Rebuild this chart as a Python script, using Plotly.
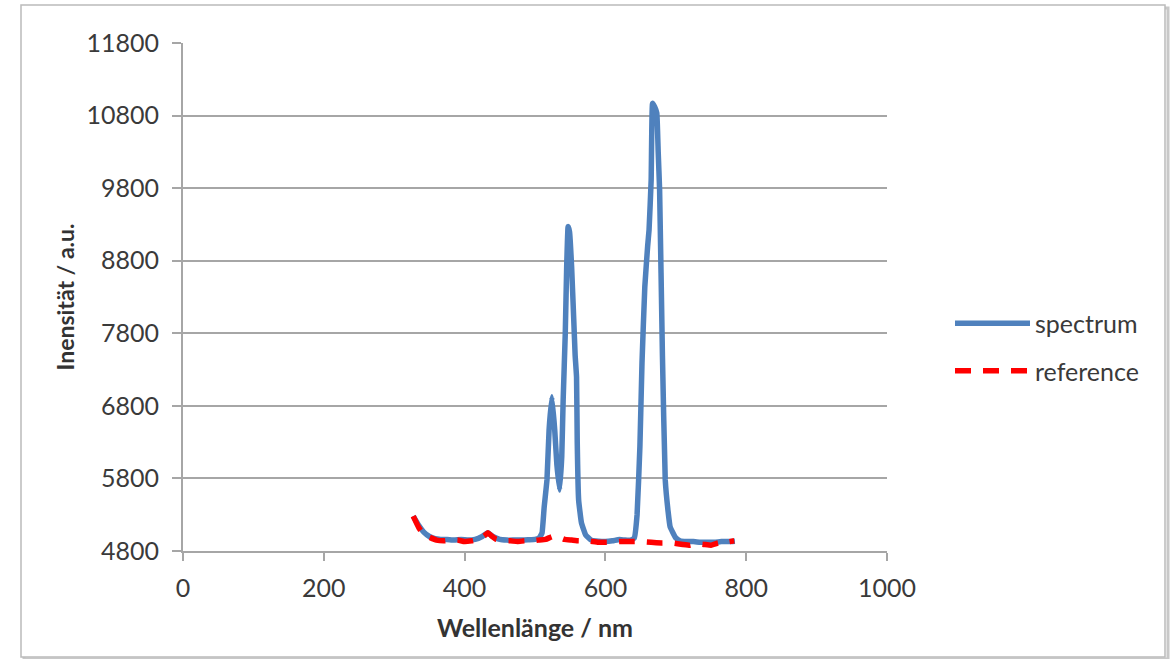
import plotly.graph_objects as go

# ---- data ----
spec_wl = [327, 335, 342, 350, 358, 366, 375, 385, 395, 405, 415, 425, 433, 440, 450, 460,
           470, 480, 490, 500, 506, 510, 513, 517, 520, 524, 528, 531, 535, 538, 540, 543,
           545, 547, 549, 552, 555, 557, 559, 560, 562, 566, 572, 580, 590, 600, 610, 620,
           628, 636, 641, 645, 649, 652, 656, 660, 662, 665, 667, 670, 673, 675, 677, 681,
           685, 689, 692, 700, 706, 715, 725, 735, 745, 755, 765, 775, 784]
spec_val = [5280, 5150, 5060, 5000, 4970, 4960, 4960, 4950, 4960, 4950, 4960, 5000, 5050, 5000, 4960, 4950,
            4950, 4950, 4955, 4960, 4980, 5050, 5400, 5780, 6470, 6926, 6470, 6000, 5640, 6100, 6880, 7800,
            8717, 9270, 9200, 8717, 8000, 7500, 7200, 6300, 5500, 5186, 5020, 4950, 4935, 4930, 4940, 4960,
            4950, 4950, 4980, 5300, 6237, 7400, 8442, 9000, 9223, 9912, 10969, 10920, 10836, 10300, 9775, 7500,
            5780, 5350, 5130, 4980, 4940, 4930, 4930, 4920, 4920, 4920, 4930, 4930, 4935]

ref_wl = [327, 335, 342, 350, 360, 370, 380, 390, 400, 410, 420, 428, 433, 438, 445, 455,
          465, 475, 485, 495, 505, 515, 522, 528, 534, 542, 552, 562, 575, 590, 605, 620,
          635, 650, 665, 680, 695, 710, 720, 730, 740, 750, 760, 770, 783]
ref_val = [5280, 5120, 5030, 4990, 4950, 4940, 4950, 4950, 4930, 4940, 4960, 5010, 5050, 5010, 4960, 4940,
           4940, 4930, 4940, 4940, 4950, 4960, 4990, 5010, 4990, 4960, 4950, 4940, 4940, 4920, 4920, 4930,
           4930, 4930, 4920, 4910, 4910, 4890, 4880, 4900, 4890, 4880, 4910, 4920, 4940]

x_ticks = [0, 200, 400, 600, 800, 1000]
y_ticks = [4800, 5800, 6800, 7800, 8800, 9800, 10800, 11800]

FONT = "Lato"
TXT = "#3A3A3A"

fig = go.Figure()
fig.add_trace(go.Scatter(x=spec_wl, y=spec_val, mode="lines", name="spectrum", legendgroup="a",
                         line=dict(color="#4F81BD", width=5.5, shape="spline", smoothing=0.3)))
fig.add_trace(go.Scatter(x=ref_wl, y=ref_val, mode="lines", name="reference", legendgroup="b",
                         line=dict(color="#FF0000", width=5.5, dash="16px,12px", shape="spline", smoothing=0.3)))

W, H = 1174, 659
L, R, T, B = 183, 887, 43, 551
pw, ph = R - L, B - T
def px(x): return (x - L) / pw
def py(y): return (B - y) / ph

fig.update_layout(
    width=W, height=H,
    margin=dict(l=L, r=W - R, t=T, b=H - B),
    paper_bgcolor="white", plot_bgcolor="rgba(0,0,0,0)",
    font=dict(family=FONT, size=22, color=TXT),
    showlegend=True,
    legend=dict(x=px(950), y=py(347), xanchor="left", yanchor="middle",
                font=dict(family=FONT, size=25, color=TXT), itemwidth=75,
                tracegroupgap=12, bgcolor="rgba(0,0,0,0)"),
    xaxis=dict(range=[0, 1000], tickvals=x_ticks, ticktext=[str(v) for v in x_ticks],
               showgrid=False, zeroline=False, showline=True, linecolor="#A6A6A6", linewidth=2,
               ticks="outside", ticklen=8, tickcolor="#A6A6A6", tickwidth=2,
               ticklabelstandoff=6,
               tickfont=dict(family=FONT, size=25, color=TXT),
               title=dict(text="<b>Wellenlänge / nm</b>", font=dict(family=FONT, size=25, color="#333333"), standoff=18)),
    yaxis=dict(range=[4800, 11800], tickvals=y_ticks, ticktext=[str(v) for v in y_ticks],
               showgrid=True, gridcolor="#A6A6A6", gridwidth=2, zeroline=False,
               showline=True, linecolor="#A6A6A6", linewidth=2,
               ticks="outside", ticklen=9, tickcolor="#A6A6A6", tickwidth=2,
               ticklabelstandoff=8,
               tickfont=dict(family=FONT, size=25, color=TXT),
               title=dict(text="<b>Inensität / a.u.</b>", font=dict(family=FONT, size=23, color="#333333"), standoff=5)),
    shapes=[
        dict(type="rect", xref="paper", yref="paper", layer="below",
             x0=px(24), x1=px(1168), y0=py(659), y1=py(8),
             line=dict(color="#C8C8C8", width=3)),
        dict(type="rect", xref="paper", yref="paper", layer="below",
             x0=px(21), x1=px(1165), y0=py(657), y1=py(5),
             line=dict(color="#BBBBBB", width=1.5), fillcolor="white"),
    ],
)

fig.write_html("out.html")
